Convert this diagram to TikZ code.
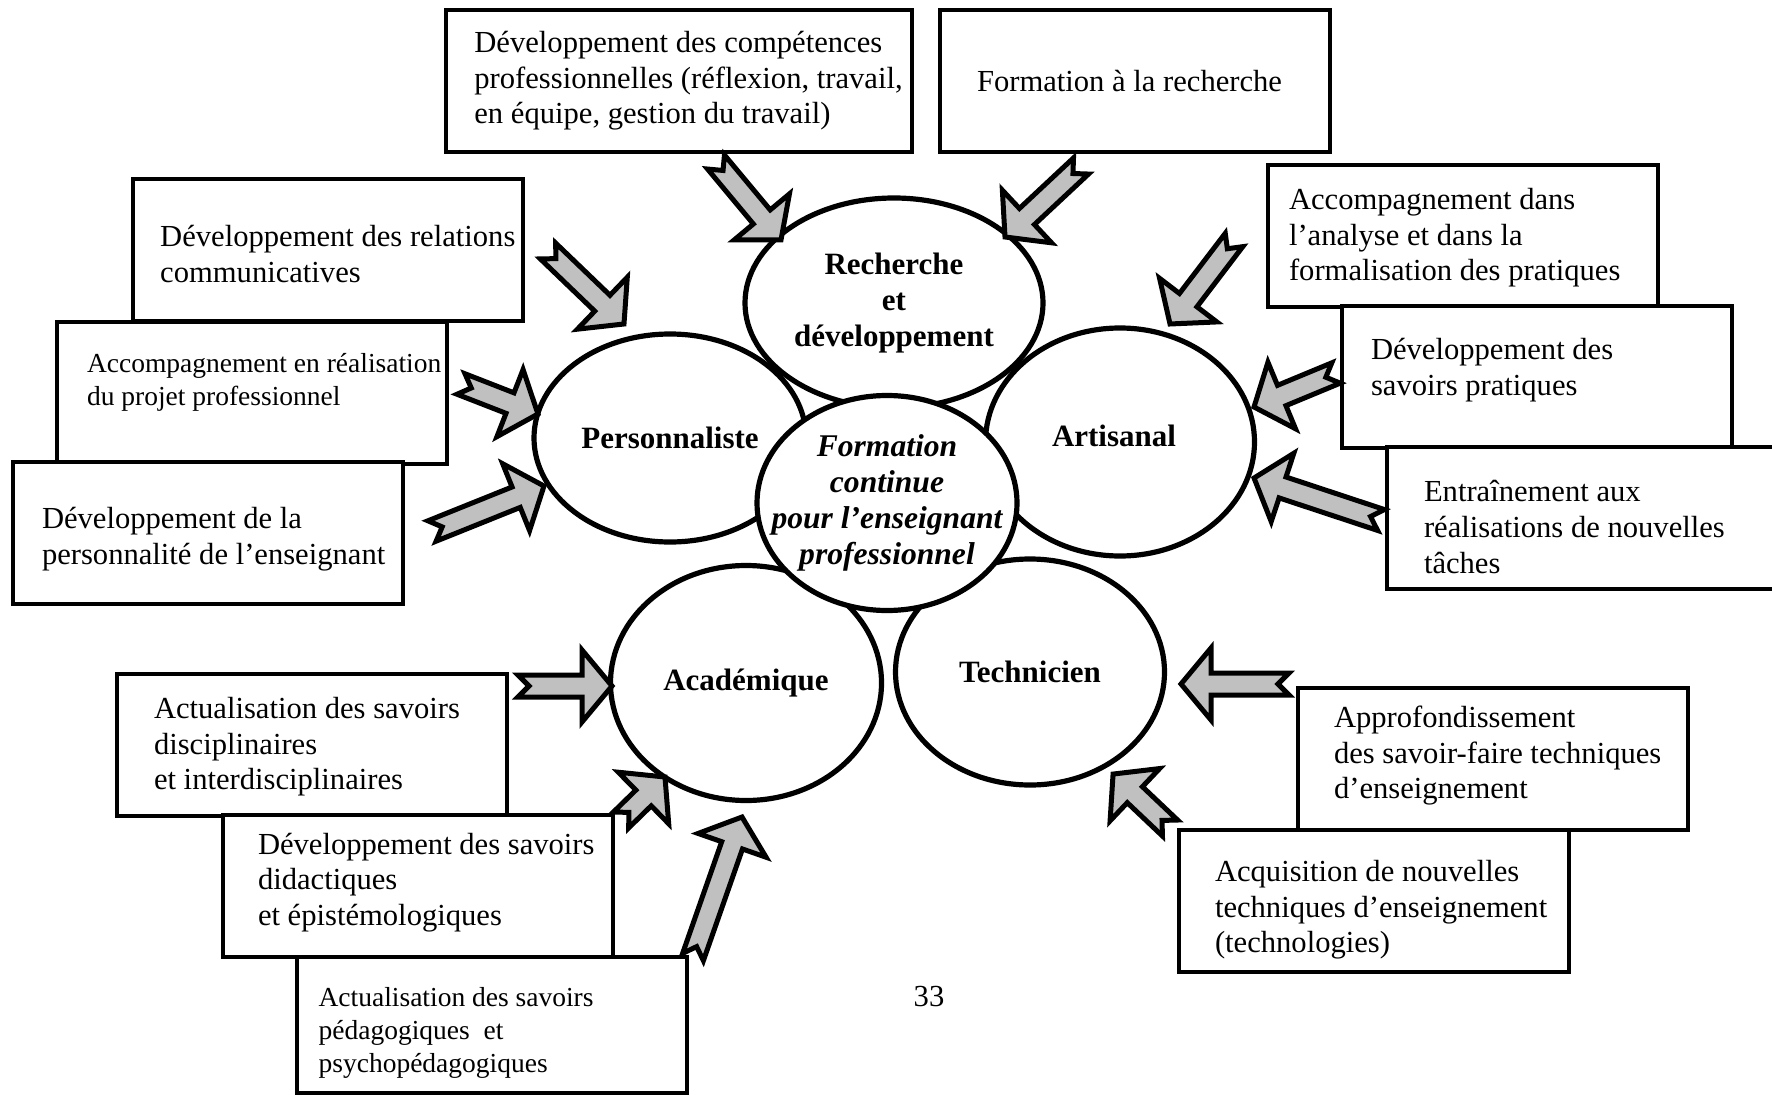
\documentclass[tikz,border=0pt]{standalone}
\usepackage{fontspec}
\setmainfont{Liberation Serif}
\usetikzlibrary{shapes.geometric, positioning}
\definecolor{arrowgray}{HTML}{C0C0C0}
\newcommand{\Tfont}{\fontsize{15.3}{17.8}\selectfont}
\newcommand{\Sfont}{\fontsize{13.75}{16.4}\selectfont}
\newcommand{\Cfont}{\fontsize{15.5}{18}\selectfont}
% notched block arrow from #1 (tail) to #2 (tip)
\newcommand{\notcharrow}[2]{%
  \pgfpointdiff{\pgfpointanchor{#1}{center}}{\pgfpointanchor{#2}{center}}%
  \pgfgetlastxy{\arrdx}{\arrdy}%
  \pgfmathsetmacro{\arrang}{atan2(\arrdy,\arrdx)}%
  \pgfmathsetmacro{\arrlen}{veclen(\arrdx,\arrdy)}%
  \draw[notched, shift={(#1)}, rotate=\arrang]
    (0pt,5.5pt) -- ({\arrlen pt-15pt},5.5pt) -- ({\arrlen pt-15pt},18pt) -- ({\arrlen pt},0pt)
    -- ({\arrlen pt-15pt},-18pt) -- ({\arrlen pt-15pt},-5.5pt) -- (0pt,-5.5pt) -- (5.5pt,0pt) -- cycle;
}
\tikzstyle{box} = [rectangle, draw=black, line width=2.4pt, fill=white, minimum width=195pt, minimum height=71pt, inner sep=0pt]
\tikzstyle{boxtext} = [align=left, inner sep=0pt, font=\Tfont]
\tikzstyle{ring} = [ellipse, draw=black, line width=2.6pt, fill=white, inner sep=-15pt, align=center, font=\Cfont\bfseries]
\tikzstyle{notched} = [draw=black, line width=2.5pt, fill=arrowgray, line join=miter]

\begin{document}
\begin{tikzpicture}[x=0.5pt, y=-0.5pt]
\useasboundingbox (0,0) rectangle (1772,1097);
\clip (0,0) rectangle (1772,1097);

% Boxes, top
\node[box, minimum width=233pt] (comp) at (679,81) {};
\node[boxtext, right=15.2pt of comp.west] (comp-t) {Développement des compétences\\professionnelles (réflexion, travail,\\en équipe, gestion du travail)};
\node[box] (rech) at (1135,81) {};
\node[boxtext, right=19.5pt of rech.west] (rech-t) {Formation à la recherche};

% Boxes, left
\node[box] (rel) at (328,250) {};
\node[boxtext, right=14.6pt of rel.west, yshift=-2pt] (rel-t) {Développement des relations\\communicatives};
\node[box] (proj) at (252,393) {};
\node[boxtext, right=16pt of proj.west, yshift=5.5pt, font=\Sfont] (proj-t) {Accompagnement en réalisation\\du projet professionnel};
\node[box] (perso) at (208,533) {};
\node[boxtext, right=15.5pt of perso.west, yshift=-3pt] (perso-t) {Développement de la\\personnalité de l’enseignant};

% Boxes, right
\node[box] (anal) at (1463,236) {};
\node[boxtext, right=11.5pt of anal.west, yshift=-1pt] (anal-t) {Accompagnement dans\\l’analyse et dans la\\formalisation des pratiques};
\node[box] (prat) at (1537,377) {};
\node[boxtext, right=15.5pt of prat.west, yshift=3.4pt] (prat-t) {Développement des\\savoirs pratiques};
\node[box] (entr) at (1582,518) {};
\node[boxtext, right=19.5pt of entr.west, yshift=-4.5pt] (entr-t) {Entraînement aux\\réalisations de nouvelles\\tâches};

% Boxes, bottom left
\node[box] (disc) at (312,745) {};
\node[boxtext, right=19.5pt of disc.west, yshift=-1pt] (disc-t) {Actualisation des savoirs\\disciplinaires\\et interdisciplinaires};
\node[box] (did) at (418,886) {};
\node[boxtext, right=18.5pt of did.west, yshift=1.7pt] (did-t) {Développement des savoirs\\didactiques\\et épistémologiques};
\node[box, minimum height=68pt] (peda) at (492,1025) {};
\node[boxtext, right=11.8pt of peda.west, yshift=-4pt, font=\Sfont] (peda-t) {Actualisation des savoirs\\pédagogiques~~et\\psychopédagogiques};

% Boxes, bottom right
\node[box] (appr) at (1493,759) {};
\node[boxtext, right=19pt of appr.west, yshift=1.7pt] (appr-t) {Approfondissement\\des savoir-faire techniques\\d’enseignement};
\node[box] (acq) at (1374,901) {};
\node[boxtext, right=19pt of acq.west, yshift=-4.5pt] (acq-t) {Acquisition de nouvelles\\techniques d’enseignement\\(technologies)};

% Circles
\node[ring, minimum width=136pt, minimum height=104pt]   (pers) at (670,438)  {Personnaliste};
\node[ring, minimum width=134.5pt, minimum height=114pt] (art)  at (1120,442) {\raisebox{6pt}{Artisanal}\hspace*{6pt}};
\node[ring, minimum width=135.5pt, minimum height=117.5pt] (acad) at (746,683) {Académique};
\node[ring, minimum width=134.5pt, minimum height=113pt] (tech) at (1030,672) {Technicien};
\node[ring, minimum width=149pt, minimum height=105pt]   (rd)   at (894,303)  {Recherche\\et\\développement};
\node[ring, minimum width=130pt, minimum height=107.5pt, font=\fontsize{15.8}{18}\selectfont\bfseries\itshape] (fc) at (887,503) {Formation\\continue\\pour l’enseignant\\professionnel};

\node[font=\Tfont] (page) at (929,997) {33};

% Arrow ends
\coordinate (t1) at (716,162);  \coordinate (h1) at (781,240);
\coordinate (t2) at (1081,166); \coordinate (h2) at (1005,237);
\coordinate (t3) at (548,251);  \coordinate (h3) at (624,324);
\coordinate (t4) at (461,384);  \coordinate (h4) at (538,414);
\coordinate (t5) at (432,531);  \coordinate (h5) at (544,486);
\coordinate (t6) at (1234,240); \coordinate (h6) at (1170,324);
\coordinate (t7) at (1336,373); \coordinate (h7) at (1254,407);
\coordinate (t8) at (1381,520); \coordinate (h8) at (1254,478);
\coordinate (t9) at (518,686);  \coordinate (h9) at (612,686);
\coordinate (t10) at (621,820); \coordinate (h10) at (665,777);
\coordinate (t11) at (693,957); \coordinate (h11) at (742,817);
\coordinate (t12) at (1289,684); \coordinate (h12) at (1181,684);
\coordinate (t13) at (1170,828); \coordinate (h13) at (1113,774);

% Arrows
\foreach \i in {1,...,13} {\notcharrow{t\i}{h\i}}
\end{tikzpicture}
\end{document}
